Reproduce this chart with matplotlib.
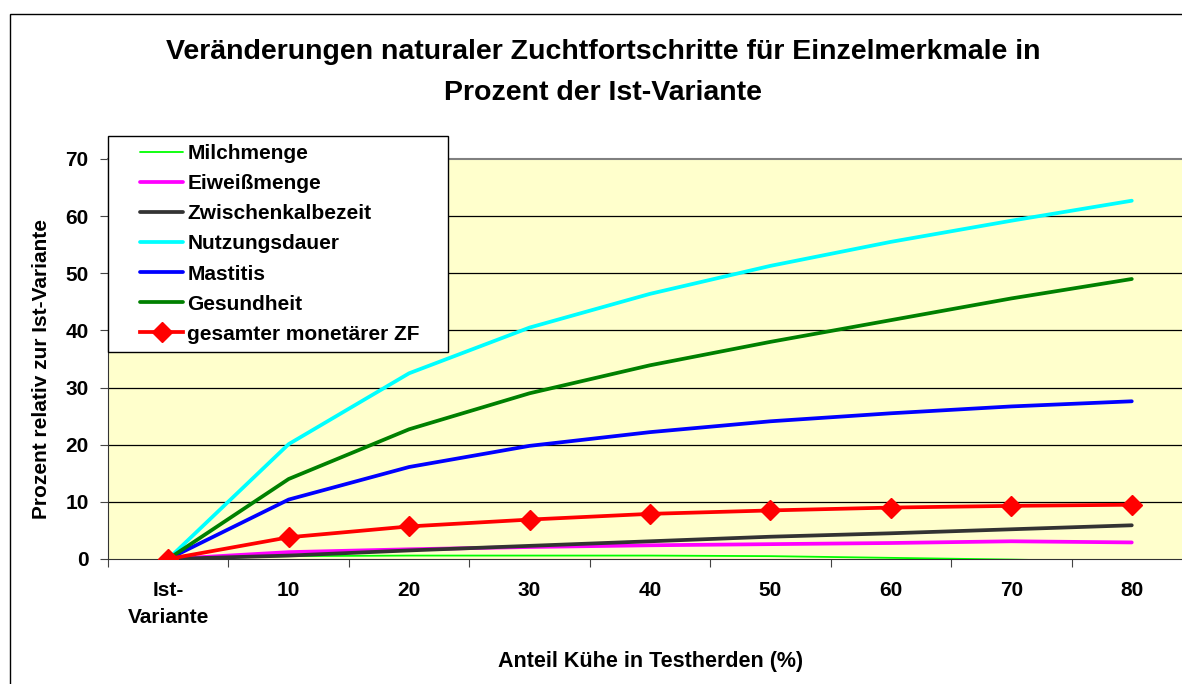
"""
Veränderungen naturaler Zuchtfortschritte für Einzelmerkmale in Prozent der Ist-Variante.
"""

import numpy as np
import matplotlib
matplotlib.use("Agg")
import matplotlib.pyplot as plt
from matplotlib.patches import Rectangle
from matplotlib.lines import Line2D
from matplotlib.legend_handler import HandlerLine2D

plt.rcParams['font.family'] = ['Liberation Sans', 'DejaVu Sans']
plt.rcParams['font.weight'] = 'bold'
plt.rcParams['axes.labelweight'] = 'bold'

categories = ["Ist-\nVariante", "10", "20", "30", "40", "50", "60", "70", "80"]

milchmenge = [0, 0.5, 0.6, 0.6, 0.6, 0.5, 0.2, -0.1, -0.5]
eiweissmenge = [0, 1.2, 1.7, 2.1, 2.4, 2.6, 2.8, 3.1, 2.9]
zwischenkalbezeit = [0, 0.6, 1.5, 2.3, 3.1, 3.9, 4.5, 5.2, 5.9]
nutzungsdauer = [0, 20.1, 32.5, 40.5, 46.4, 51.3, 55.5, 59.2, 62.7]
mastitis = [0, 10.4, 16.1, 19.8, 22.2, 24.1, 25.5, 26.7, 27.6]
gesundheit = [0, 14.0, 22.7, 29.0, 33.9, 38.0, 41.8, 45.6, 49.0]
gesamt_zf = [0, 3.8, 5.7, 6.9, 7.9, 8.5, 9.0, 9.3, 9.5]

series = [
    ("Milchmenge", milchmenge, "#00FF00", 1.3),
    ("Eiweißmenge", eiweissmenge, "#FF00FF", 2.7),
    ("Zwischenkalbezeit", zwischenkalbezeit, "#333333", 2.7),
    ("Nutzungsdauer", nutzungsdauer, "#00FFFF", 2.7),
    ("Mastitis", mastitis, "#0000FF", 2.7),
    ("Gesundheit", gesundheit, "#008000", 2.7),
]


class LeftPadHandler(HandlerLine2D):
    # legend line drawn only in the right part of the handle box
    def get_xdata(self, legend, xdescent, ydescent, width, height, fontsize):
        x0 = -xdescent + 0.36 * width
        x1 = -xdescent + width
        return np.array([x0, x1]), np.array([(x0 + x1) / 2])


W, H = 1182, 684
fig = plt.figure(figsize=(W / 100, H / 100), dpi=100)

# outer chart border (runs off the right and bottom edges)
fig.add_artist(Rectangle((10 / W, -0.1), 1.2, 1 - 14 / H + 0.1,
                         transform=fig.transFigure, fill=False,
                         edgecolor="black", linewidth=1.0))

ax = fig.add_axes([108 / W, (H - 559) / H, 1084 / W, 400 / H])
ax.set_facecolor("#FFFFCC")

x = np.arange(len(categories))
for label, vals, color, lw in series:
    ax.plot(x, vals, color=color, lw=lw, label=label, marker="None",
            solid_capstyle="round", zorder=3)
ax.plot(x, gesamt_zf, color="#FF0000", lw=2.7, marker="D", markersize=10,
        label="gesamter monetärer ZF", zorder=4)

ax.set_xlim(-0.5, len(categories) - 0.5)
ax.set_ylim(0, 70)
ax.set_yticks(np.arange(0, 71, 10))
ax.set_xticks(x)
ax.set_xticklabels(categories, linespacing=1.5)
ax.set_xticks(np.arange(-0.5, len(categories), 1), minor=True)
ax.tick_params(axis="x", which="major", length=0, pad=16, labelsize=15)
ax.tick_params(axis="x", which="minor", length=6, width=0.8, color="#444444")
ax.tick_params(axis="y", length=6, width=0.8, pad=8, labelsize=15,
               color="#444444")

for yv in range(10, 70, 10):
    ax.axhline(yv, color="black", lw=0.9, zorder=1)

ax.spines["right"].set_visible(False)
ax.spines["top"].set_color("#808080")
ax.spines["top"].set_linewidth(1.5)
ax.spines["left"].set_color("#333333")
ax.spines["bottom"].set_color("#333333")

fig.text(42 / W, 1 - 369 / H, "Prozent relativ zur Ist-Variante",
         fontsize=15, rotation=90, ha="center", va="center")
fig.text(651 / W, 1 - 661 / H, "Anteil Kühe in Testherden (%)",
         fontsize=15.5, ha="center", va="center")

fig.text(603 / W, 1 - 52 / H,
         "Veränderungen naturaler Zuchtfortschritte für Einzelmerkmale in",
         fontsize=20.5, ha="center", va="center")
fig.text(603 / W, 1 - 93 / H, "Prozent der Ist-Variante",
         fontsize=20.5, ha="center", va="center")

leg = ax.legend(loc="upper left", bbox_to_anchor=(108 / W, 1 - 348 / H,
                                                   340 / W, 212 / H),
                bbox_transform=fig.transFigure, mode="expand",
                fontsize=15, frameon=True, fancybox=False,
                edgecolor="black", framealpha=1, borderaxespad=0,
                handlelength=3.2, handletextpad=0.2, labelspacing=0.53,
                borderpad=0.4, handler_map={Line2D: LeftPadHandler()})
leg.get_frame().set_linewidth(1.0)
leg.set_zorder(10)

fig.savefig("out.png", dpi=100)
